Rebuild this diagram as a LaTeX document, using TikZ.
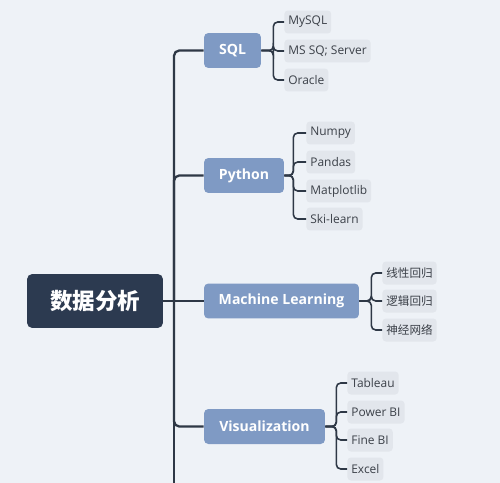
\documentclass[tikz,border=0pt]{standalone}
\usepackage{fontspec}
\setsansfont{Open Sans}
\newfontfamily\cjkfont{Noto Sans CJK SC}
\usetikzlibrary{positioning}
\definecolor{bgcol}{HTML}{EEF2F7}
\definecolor{rootcol}{HTML}{2C3A50}
\definecolor{topiccol}{HTML}{7F9AC4}
\definecolor{leafcol}{HTML}{E2E6EC}
\definecolor{linecol}{HTML}{2E3846}
\definecolor{leaftext}{HTML}{3B4048}

\begin{document}
\begin{tikzpicture}[
        x=0.02cm, y=-0.02cm,
        root/.style={rectangle, rounded corners=3pt, fill=rootcol, text=white, minimum width=2.72cm, minimum height=1.08cm, font=\cjkfont\bfseries\fontsize{12.8}{14}\selectfont},
        topic/.style={rectangle, rounded corners=2.5pt, fill=topiccol, text=white, minimum height=0.7cm, inner sep=0pt, font=\sffamily\bfseries\fontsize{8}{9}\selectfont},
        leaf/.style={rectangle, rounded corners=2pt, fill=leafcol, text=leaftext, anchor=west, minimum height=0.46cm, inner xsep=0.08cm, inner ysep=0pt, font=\sffamily\fontsize{6.8}{8}\selectfont},
        cjkleaf/.style={leaf, font=\cjkfont\fontsize{6.6}{8}\selectfont},
        trunk/.style={draw=linecol, line width=1.3pt, rounded corners=3pt},
        bracket/.style={draw=linecol, line width=0.9pt, rounded corners=2.5pt}
    ]
        \fill[bgcol] (0,0) rectangle (500,483);
        \useasboundingbox (0,0) rectangle (500,483);

        \node[root] (root) at (95,301) {数据分析};
        \node[topic, minimum width=1.14cm] (sql) at (232.5,50.5) {SQL};
        \node[topic, minimum width=1.6cm] (python) at (244,175.5) {Python};
        \node[topic, minimum width=3.1cm] (ml) at (281.5,301) {Machine Learning};
        \node[topic, minimum width=2.42cm] (vis) at (264.5,426.5) {Visualization};

        % leaves
        \node[leaf] (mysql) at (284,22) {MySQL};
        \node[leaf] (mssql) at (284,51) {MS SQ; Server};
        \node[leaf] (oracle) at (284,80) {Oracle};
        \node[leaf] (numpy) at (306,133) {Numpy};
        \node[leaf] (pandas) at (306,162) {Pandas};
        \node[leaf] (matplotlib) at (306,191) {Matplotlib};
        \node[leaf] (sklearn) at (306,219) {Ski-learn};
        \node[cjkleaf] (linear) at (382,273) {线性回归};
        \node[cjkleaf] (logistic) at (382,301) {逻辑回归};
        \node[cjkleaf] (neural) at (382,330) {神经网络};
        \node[leaf] (tableau) at (347,383) {Tableau};
        \node[leaf] (powerbi) at (347,412) {Power BI};
        \node[leaf] (finebi) at (347,440) {Fine BI};
        \node[leaf] (excel) at (347,469) {Excel};

        \coordinate (hub) at (174,301);
        \coordinate (trunkend) at (174,483);

        \draw[trunk] (root.east) -- (hub);
        \draw[trunk] (hub) |- (sql.west);
        \draw[trunk] (hub) |- (python.west);
        \draw[trunk] (hub) -- (ml.west);
        \draw[trunk] (hub) |- (vis.west);
        \draw[trunk] (hub) -- (trunkend);

        \foreach \leafname in {mysql, mssql, oracle}
            \draw[bracket] (sql.east) -- ++(12,0) |- (\leafname.west);
        \foreach \leafname in {numpy, pandas, matplotlib, sklearn}
            \draw[bracket] (python.east) -- ++(9,0) |- (\leafname.west);
        \foreach \leafname in {linear, logistic, neural}
            \draw[bracket] (ml.east) -- ++(12,0) |- (\leafname.west);
        \foreach \leafname in {tableau, powerbi, finebi, excel}
            \draw[bracket] (vis.east) -- ++(11,0) |- (\leafname.west);
    \end{tikzpicture}
\end{document}
